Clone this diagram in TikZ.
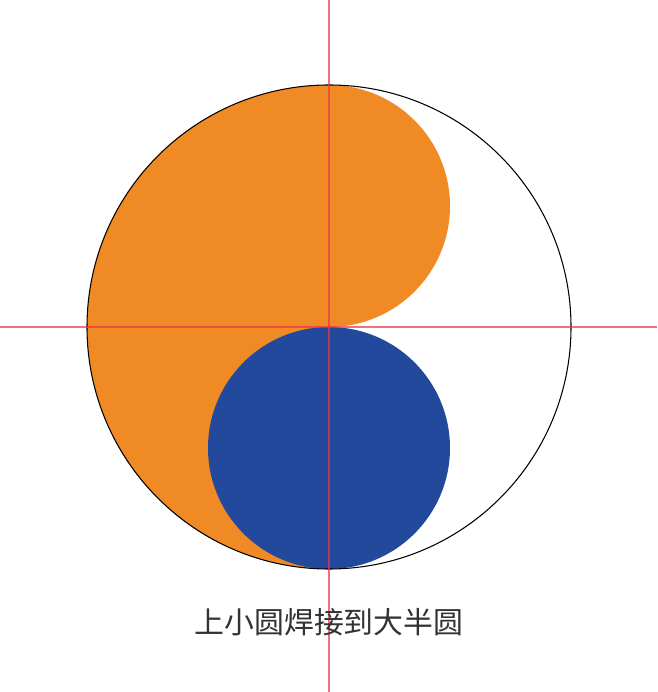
\documentclass[tikz,border=0pt]{standalone}
\usepackage{fontspec}
\newfontfamily\cjk{Noto Sans CJK SC}
\usepackage{tikz}
\definecolor{weldorange}{HTML}{F08A24}
\definecolor{weldblue}{HTML}{22499C}
\definecolor{guidered}{HTML}{F0344A}
\tikzstyle{guide} = [draw=guidered, line width=0.7pt, draw opacity=0.7]
\tikzstyle{caption} = [text=black!80, font=\cjk\fontsize{17}{20}\selectfont]

\begin{document}
\begin{tikzpicture}
			\useasboundingbox (-6.58, 6.54) rectangle (6.56, -7.30);
			\fill[white] (-6.58, 6.54) rectangle (6.56, -7.30);
			\fill[weldorange] (0, 4.84) arc (90:270:4.84) -- cycle;
			\fill[weldorange] (0, 2.42) circle (2.42);
			\fill[weldblue] (0, -2.42) circle (2.42);
			\draw[black, line width=0.6pt] (0, 0) circle (4.84);
			\draw[guide] (0, 6.54) -- (0, -7.30);
			\draw[guide] (-6.58, 0) -- (6.56, 0);
			\node[caption] (label) at (0, -5.9) {上小圆焊接到大半圆};
		\end{tikzpicture}
\end{document}
